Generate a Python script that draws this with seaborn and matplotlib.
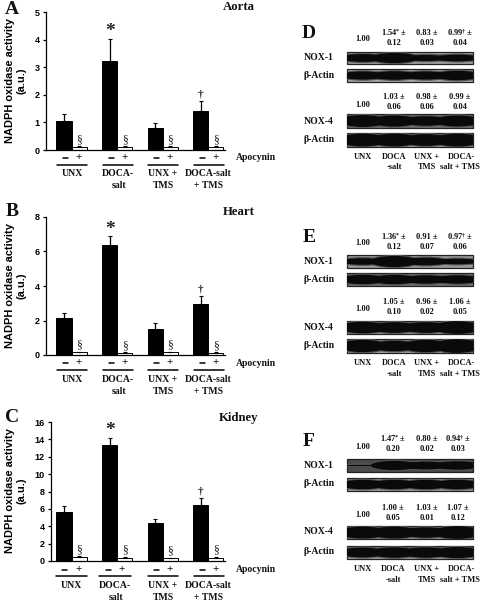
import numpy as np
import pandas as pd
import matplotlib
matplotlib.use("Agg")
import matplotlib.pyplot as plt
from matplotlib.patches import Ellipse, Rectangle
import seaborn as sns

# ==========================================================
# DATA
# ==========================================================

groups = ["UNX", "DOCA-salt", "UNX + TMS", "DOCA-salt + TMS"]
apocynin = ["-", "+"]

aorta_minus = [1.05, 3.22, 0.78, 1.43]
aorta_plus = [0.10, 0.10, 0.12, 0.10]
aorta_minus_err = [0.27, 0.81, 0.19, 0.34]
aorta_plus_err = [0.04, 0.04, 0.03, 0.04]

heart_minus = [2.15, 6.38, 1.52, 2.95]
heart_plus = [0.15, 0.12, 0.15, 0.13]
heart_minus_err = [0.27, 0.52, 0.31, 0.47]
heart_plus_err = [0.05, 0.05, 0.05, 0.05]

kidney_minus = [5.65, 13.3, 4.40, 6.40]
kidney_plus = [0.50, 0.40, 0.30, 0.40]
kidney_minus_err = [0.65, 0.90, 0.40, 0.80]
kidney_plus_err = [0.10, 0.10, 0.10, 0.10]

aorta_ticks = [0, 1, 2, 3, 4, 5]
heart_ticks = [0, 2, 4, 6, 8]
kidney_ticks = [0, 2, 4, 6, 8, 10, 12, 14, 16]

# band thickness per lane (fraction of blot height)
d_nox1 = [0.65, 0.85, 0.50, 0.55]
d_actin1 = [0.62, 0.66, 0.62, 0.72]
d_nox4 = [0.85, 0.80, 0.68, 0.78]
d_actin4 = [0.92, 0.92, 0.84, 0.92]
e_nox1 = [0.50, 0.85, 0.58, 0.42]
e_actin1 = [0.72, 0.72, 0.65, 0.65]
e_nox4 = [0.88, 0.82, 0.82, 0.98]
e_actin4 = [0.88, 0.74, 0.88, 0.98]
f_nox1 = [0.10, 0.72, 0.60, 0.65]
f_actin1 = [0.72, 0.72, 0.72, 0.72]
f_nox4 = [0.92, 0.92, 0.80, 0.98]
f_actin4 = [0.75, 0.80, 0.80, 0.85]

d_vals1 = [["1.00"], ["1.54$^{*}$ \u00b1", "0.12"], ["0.83 \u00b1", "0.03"], ["0.99$^{\\dagger}$ \u00b1", "0.04"]]
d_vals4 = [["1.00"], ["1.03 \u00b1", "0.06"], ["0.98 \u00b1", "0.06"], ["0.99 \u00b1", "0.04"]]
e_vals1 = [["1.00"], ["1.36$^{*}$ \u00b1", "0.12"], ["0.91 \u00b1", "0.07"], ["0.97$^{\\dagger}$ \u00b1", "0.06"]]
e_vals4 = [["1.00"], ["1.05 \u00b1", "0.10"], ["0.96 \u00b1", "0.02"], ["1.06 \u00b1", "0.05"]]
f_vals1 = [["1.00"], ["1.47$^{*}$ \u00b1", "0.20"], ["0.80 \u00b1", "0.02"], ["0.94$^{\\dagger}$ \u00b1", "0.03"]]
f_vals4 = [["1.00"], ["1.00 \u00b1", "0.05"], ["1.03 \u00b1", "0.01"], ["1.07 \u00b1", "0.12"]]

# ==========================================================
# STYLE
# ==========================================================

sns.set_theme(style="white")
plt.rcParams["font.family"] = ["Liberation Serif", "DejaVu Serif"]
plt.rcParams["mathtext.fontset"] = "custom"
plt.rcParams["mathtext.rm"] = "Liberation Serif:bold"
plt.rcParams["mathtext.it"] = "Liberation Serif:bold"
plt.rcParams["mathtext.bf"] = "Liberation Serif:bold"

W, H = 480, 601
fig = plt.figure(figsize=(W / 100, H / 100), dpi=100, facecolor="white")

# overlay in pixel coordinates, for the labels and the blots
page = fig.add_axes([0, 0, 1, 1], zorder=5)
page.set_xlim(0, W)
page.set_ylim(H, 0)
page.axis("off")


def bold(x, y, s, size=7, **kw):
    kw.setdefault("ha", "center")
    page.text(x, y, s, fontsize=size, fontweight="bold", va="center",
              color="#111111", **kw)


# ==========================================================
# BAR PANELS
# ==========================================================

def bar_panel(letter, title, top, bottom, left, minus, plus, minus_err, plus_err,
              ticks, rows, title_y, letter_y, label_y, line_spans):
    x0, step = 71.5, 45.6
    ax = fig.add_axes([left / W, 1 - bottom / H, (225 - left) / W, (bottom - top) / H])

    df = pd.DataFrame({
        "group": groups * 2,
        "apocynin": [apocynin[0]] * 4 + [apocynin[1]] * 4,
        "value": minus + plus,
    })
    sns.barplot(data=df, x="group", y="value", hue="apocynin", order=groups,
                hue_order=apocynin, palette=["black", "white"], width=0.66,
                edgecolor="black", linewidth=0.7, errorbar=None, legend=False,
                ax=ax)

    bars = list(ax.patches)[:8]
    centers = [b.get_x() + b.get_width() / 2 for b in bars]
    heights = [b.get_height() for b in bars]
    errs = minus_err + plus_err
    ax.errorbar(centers, heights, yerr=[np.zeros(8), errs], fmt="none",
                ecolor="black", elinewidth=0.9, capsize=1.3, capthick=0.8)

    # significance marks sit on top of the whiskers
    ax.annotate("*", (centers[1], heights[1] + errs[1]), xytext=(0, 5),
                textcoords="offset points", ha="center", va="center",
                fontsize=14, fontweight="bold", color="#222222")
    ax.annotate("\u2020", (centers[3], heights[3] + errs[3]), xytext=(0, 2),
                textcoords="offset points", ha="center", va="bottom",
                fontsize=8, fontweight="bold", color="#222222")
    for i in range(4, 8):
        ax.annotate("\u00a7", (centers[i], heights[i] + errs[i]), xytext=(0, 0),
                    textcoords="offset points", ha="center", va="bottom",
                    fontsize=8.5, color="#222222")

    ax.set_xlim((left - x0) / step, (225 - x0) / step)
    ax.set_ylim(ticks[0], ticks[-1])
    ax.set_xticks([])
    ax.set_yticks(ticks)
    ax.set_xlabel("")
    ax.set_ylabel("NADPH oxidase activity\n(a.u.)", fontsize=7.9, fontweight="bold",
                  family="Liberation Sans", linespacing=1.2, va="center", color="black")
    ax.yaxis.set_label_coords(15.5, (top + bottom) / 2 - 0.5, transform=page.transData)
    ax.tick_params(axis="y", left=True, length=2.5, width=0.9, pad=2, color="black")
    for t in ax.get_yticklabels():
        t.set_fontsize(6.5)
        t.set_fontweight("bold")
        t.set_family("Liberation Sans")
        t.set_color("black")
    sns.despine(ax=ax)
    for side in ["left", "bottom"]:
        ax.spines[side].set_linewidth(0.9)
        ax.spines[side].set_color("black")
    ax.patch.set_alpha(0)

    # text under the bars
    for a, b in line_spans:
        cx = (a + b) / 2
        page.plot([a, b], [rows[1], rows[1]], color="black", lw=1.1)
        page.plot([cx - 9.5, cx - 4.5], [rows[0], rows[0]], color="black", lw=1.1)
        bold(cx + 7, rows[0] - 0.5, "+", size=8)
    bold(236, rows[0], "Apocynin", ha="left")
    mids = [(a + b) / 2 for a, b in line_spans]
    bold(mids[0], label_y[0], "UNX")
    bold(mids[1], label_y[0], "DOCA-")
    bold(mids[1] + 1, label_y[1], "salt")
    bold(mids[2], label_y[0], "UNX +")
    bold(mids[2], label_y[1], "TMS")
    bold(mids[3] - 1, label_y[0], "DOCA-salt")
    bold(mids[3] - 1, label_y[1], "+ TMS")

    bold(239, title_y, title, size=9.2)
    bold(12, letter_y, letter, size=14)


bar_panel("A", "Aorta", 12, 150, 46, aorta_minus, aorta_plus, aorta_minus_err,
          aorta_plus_err, aorta_ticks, (158, 165), 7, 9.5, (174, 186),
          [(57, 87), (103, 133), (148, 178), (194, 224)])
bar_panel("B", "Heart", 217, 355, 46, heart_minus, heart_plus, heart_minus_err,
          heart_plus_err, heart_ticks, (363, 370), 212, 212, (379, 392),
          [(57, 87), (103, 133), (148, 178), (194, 224)])
bar_panel("C", "Kidney", 422, 561, 51, kidney_minus, kidney_plus, kidney_minus_err,
          kidney_plus_err, kidney_ticks, (570, 576), 418, 418, (586, 597),
          [(56, 87), (99, 131), (148, 178), (194, 224)])


# ==========================================================
# BLOT PANELS
# ==========================================================

def blot(x0, x1, y0, y1, bands, back):
    rect = Rectangle((x0, y0), x1 - x0, y1 - y0, facecolor=back, edgecolor="#222222", lw=0.9)
    page.add_patch(rect)
    lane = (x1 - x0) / 4
    h = y1 - y0
    mid = (y0 + y1) / 2
    for i, t in enumerate(bands):
        cx = x0 + (i + 0.5) * lane
        halo = Ellipse((cx, mid), lane * 1.6, h * t + 2.5, facecolor="#555555", lw=0)
        page.add_patch(halo)
        halo.set_clip_path(rect)
    for i, t in enumerate(bands):
        cx = x0 + (i + 0.5) * lane
        core = Ellipse((cx, mid), lane * 1.5, h * t, facecolor="#0a0a0a", lw=0)
        page.add_patch(core)
        core.set_clip_path(rect)


def value_row(cols, vals, y_one, y_a, y_b):
    for cx, v in zip(cols, vals):
        if len(v) == 1:
            bold(cx, y_one, v[0], size=6)
        else:
            bold(cx, y_a, v[0], size=6)
            bold(cx, y_b, v[1], size=6)


def blot_panel(letter, letter_y, blots, rows, vals1, vals4, ys1, ys4, bottoms, cols):
    bold(309, letter_y, letter, size=14)
    names = ["NOX-1", "\u03b2-Actin", "NOX-4", "\u03b2-Actin"]
    for (y0, y1, bands, back), name, ry in zip(blots, names, rows):
        blot(347, 473, y0, y1, bands, back)
        bold(304, ry, name, ha="left")
    value_row(cols, vals1, *ys1)
    value_row(cols, vals4, *ys4)

    bold(cols[0], bottoms[0], "UNX", size=6)
    bold(cols[1], bottoms[0], "DOCA", size=6)
    bold(cols[1], bottoms[1], "-salt", size=6)
    bold(cols[2], bottoms[0], "UNX +", size=6)
    bold(cols[2], bottoms[1], "TMS", size=6)
    bold(461, bottoms[0], "DOCA-", size=6)
    bold(460, bottoms[1], "salt + TMS", size=6)


cols_d = [363, 394, 427, 460]
blot_panel("D", 34,
           [(52, 64, d_nox1, "#a0a0a0"), (69, 82, d_actin1, "#a8a8a8"),
            (114, 128, d_nox4, "#6e6e6e"), (133, 147, d_actin4, "#a0a0a0")],
           [57, 76, 122, 140], d_vals1, d_vals4, (39, 33, 43), (105, 97, 107),
           (157, 167), cols_d)
blot_panel("E", 237,
           [(255, 268, e_nox1, "#9a9a9a"), (273, 286, e_actin1, "#707070"),
            (321, 334, e_nox4, "#9a9a9a"), (339, 353, e_actin4, "#a8a8a8")],
           [262, 279, 327, 345], e_vals1, e_vals4, (243, 237, 247), (309, 302, 312),
           (363, 374), cols_d)
blot_panel("F", 442,
           [(459, 472, f_nox1, "#4a4a4a"), (478, 491, f_actin1, "#a0a0a0"),
            (526, 539, f_nox4, "#9a9a9a"), (546, 559, f_actin4, "#a8a8a8")],
           [466, 483, 532, 552], f_vals1, f_vals4, (447, 439, 449), (515, 508, 518),
           (569, 580), [363, 393, 427, 458])

fig.savefig("out.png", dpi=100)
